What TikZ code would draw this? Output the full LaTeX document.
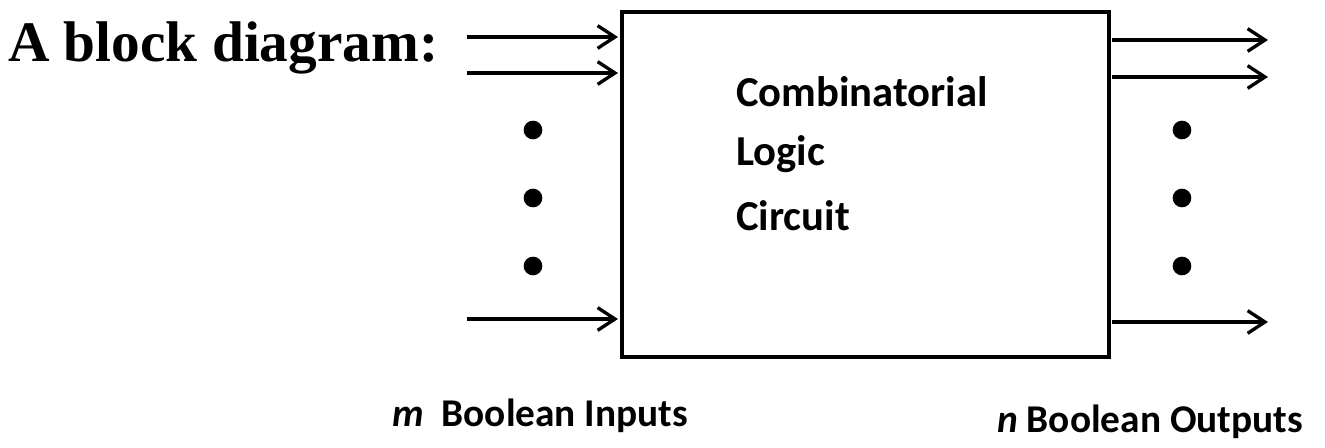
\documentclass[tikz,border=0pt]{standalone}
\usepackage{fontspec}
\setmainfont{Liberation Serif}
\newfontfamily\calfont{Carlito}
\usetikzlibrary{arrows.meta}
\begin{document}
\begin{tikzpicture}[x=0.75pt,y=-0.75pt,
  sig/.style={line width=2.8pt,-{Straight Barb[length=13pt,width=17pt,line width=2.5pt]}},
  dotm/.style={circle,fill,inner sep=0pt,minimum size=14pt},
  lab/.style={font=\calfont\bfseries\fontsize{29.5}{32}\selectfont,inner sep=0pt,anchor=west}]
\useasboundingbox (0,0) rectangle (1325,448);
\node[draw,line width=3pt,minimum width=365pt,minimum height=259pt,anchor=north west,inner sep=0pt] (box) at (620,10) {};
\node[anchor=west,inner sep=0pt,font=\bfseries\fontsize{43}{46}\selectfont] (t) at (8,48) {A block diagram:};
\foreach \n/\y in {i1/37,i2/73,i3/319}{
  \coordinate (\n s) at (467,\y); \coordinate (\n e) at (618,\y);
  \draw[sig] (\n s) -- (\n e);}
\foreach \n/\y in {o1/40,o2/77,o3/322}{
  \coordinate (\n s) at (1112,\y); \coordinate (\n e) at (1268,\y);
  \draw[sig] (\n s) -- (\n e);}
\foreach \y [count=\k] in {130,198,266}{
  \node[dotm] (dl\k) at (533,\y) {};
  \node[dotm] (dr\k) at (1182,\y) {};}
\node[lab,font=\calfont\bfseries\fontsize{32}{34}\selectfont] (c1) at (736,92) {Combinatorial};
\node[lab,font=\calfont\bfseries\fontsize{32}{34}\selectfont] (c2) at (736,154) {Logic};
\node[lab,font=\calfont\bfseries\fontsize{32}{34}\selectfont] (c3) at (736,216) {Circuit};
\node[lab] (m) at (392,416) {\itshape m\upshape\ \ Boolean Inputs};
\node[lab] (n) at (997,422) {\itshape n\upshape\ Boolean Outputs};
\end{tikzpicture}
\end{document}
